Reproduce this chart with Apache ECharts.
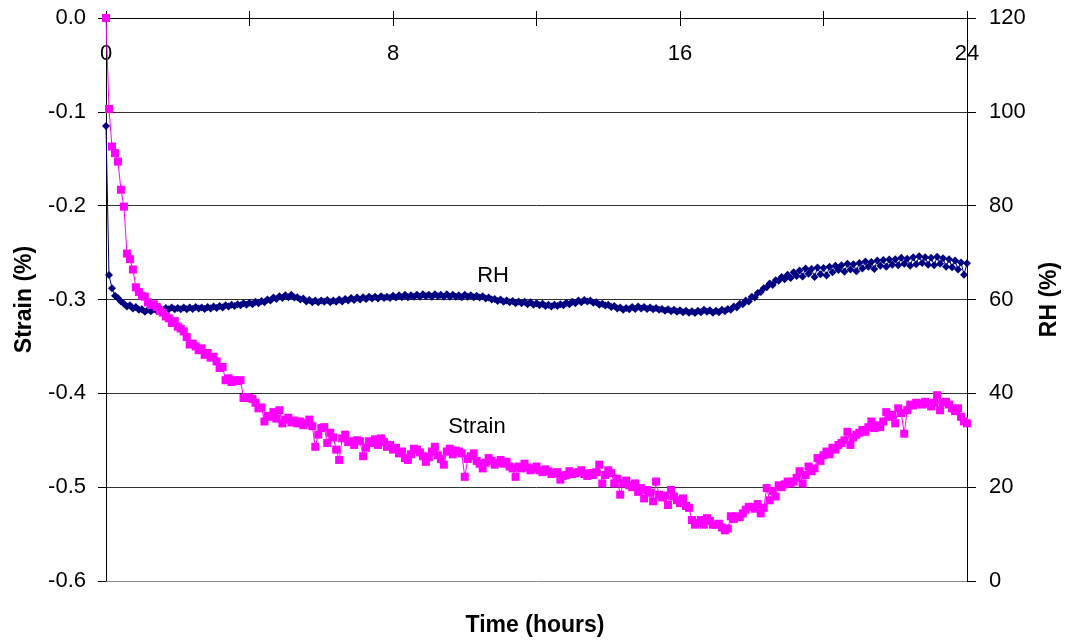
<!DOCTYPE html>
<html>
<head>
<meta charset="utf-8">
<script src="https://cdn.jsdelivr.net/npm/echarts@6/dist/echarts.min.js"></script>
<style>
  html, body { margin: 0; padding: 0; background: #ffffff; }
  #chart { width: 1070px; height: 641px; }
</style>
</head>
<body>
<div id="chart"></div>
<script>
// Logger samples every 5 minutes over 24 hours (one row per hour, last value at 24 h)
const SAMPLE_MINUTES = 5;

const strain = [
  0, -0.097, -0.137, -0.144, -0.153, -0.183, -0.201, -0.251, -0.257, -0.268, -0.287, -0.292,
  -0.296, -0.297, -0.303, -0.306, -0.305, -0.308, -0.312, -0.314, -0.318, -0.320, -0.325, -0.323,
  -0.329, -0.331, -0.334, -0.340, -0.348, -0.347, -0.350, -0.354, -0.352, -0.359, -0.357, -0.362,
  -0.361, -0.366, -0.373, -0.372, -0.386, -0.384, -0.388, -0.386, -0.387, -0.386, -0.405, -0.404,
  -0.405, -0.406, -0.410, -0.416, -0.415, -0.430, -0.424, -0.425, -0.420, -0.427, -0.418, -0.432,
  -0.428, -0.426, -0.431, -0.429, -0.432, -0.430, -0.434, -0.432, -0.428, -0.435, -0.457, -0.444,
  -0.437, -0.436, -0.453, -0.442, -0.447, -0.460, -0.471, -0.448, -0.444, -0.452, -0.451, -0.455,
  -0.450, -0.451, -0.467, -0.458, -0.451, -0.453, -0.449, -0.455, -0.448, -0.452, -0.457, -0.455,
  -0.460, -0.458, -0.464, -0.462, -0.469, -0.471, -0.465, -0.459, -0.460, -0.463, -0.467, -0.473,
  -0.468, -0.462, -0.457, -0.466, -0.470, -0.476, -0.462, -0.459, -0.465, -0.461, -0.462, -0.464,
  -0.489, -0.470, -0.467, -0.464, -0.472, -0.475, -0.480, -0.474, -0.469, -0.472, -0.476, -0.474,
  -0.471, -0.475, -0.473, -0.478, -0.480, -0.489, -0.478, -0.480, -0.475, -0.479, -0.482, -0.480,
  -0.478, -0.482, -0.484, -0.481, -0.483, -0.486, -0.485, -0.484, -0.492, -0.488, -0.487, -0.483,
  -0.486, -0.485, -0.484, -0.482, -0.486, -0.488, -0.485, -0.487, -0.484, -0.476, -0.496, -0.487,
  -0.482, -0.485, -0.496, -0.491, -0.508, -0.496, -0.493, -0.498, -0.500, -0.496, -0.505, -0.501,
  -0.512, -0.503, -0.506, -0.515, -0.494, -0.508, -0.511, -0.509, -0.519, -0.503, -0.510, -0.514,
  -0.517, -0.512, -0.520, -0.522, -0.535, -0.540, -0.538, -0.535, -0.540, -0.533, -0.536, -0.540,
  -0.540, -0.539, -0.543, -0.546, -0.544, -0.531, -0.534, -0.531, -0.532, -0.528, -0.524, -0.521,
  -0.521, -0.523, -0.518, -0.528, -0.522, -0.501, -0.514, -0.504, -0.510, -0.498, -0.500, -0.497,
  -0.494, -0.496, -0.494, -0.490, -0.483, -0.496, -0.487, -0.478, -0.483, -0.480, -0.469, -0.472,
  -0.466, -0.462, -0.465, -0.458, -0.460, -0.455, -0.453, -0.450, -0.441, -0.455, -0.447, -0.444,
  -0.442, -0.439, -0.441, -0.436, -0.430, -0.437, -0.434, -0.436, -0.430, -0.420, -0.425, -0.423,
  -0.432, -0.416, -0.421, -0.443, -0.418, -0.412, -0.413, -0.410, -0.411, -0.412, -0.409, -0.411,
  -0.414, -0.410, -0.402, -0.418, -0.410, -0.409, -0.412, -0.416, -0.419, -0.416, -0.425, -0.430,
  -0.432
];

const rh = [
  97.0, 65.2, 62.4, 60.8, 60.3, 59.6, 59.1, 58.5, 58.8, 58.1, 58.4, 57.8,
  57.9, 57.4, 57.8, 57.5, 57.9, 57.6, 58.1, 57.7, 58.2, 57.9, 58.3, 57.9,
  58.2, 57.9, 58.3, 57.9, 58.3, 58.0, 58.4, 58.1, 58.3, 58.0, 58.4, 58.1,
  58.5, 58.2, 58.6, 58.3, 58.8, 58.5, 58.9, 58.6, 59.0, 58.8, 59.2, 58.9,
  59.3, 59.0, 59.5, 59.2, 59.7, 59.4, 60.0, 59.8, 60.4, 60.1, 60.7, 60.3,
  60.9, 60.5, 61.0, 60.4, 60.5, 60.0, 60.2, 59.6, 59.9, 59.4, 59.8, 59.4,
  59.8, 59.5, 59.9, 59.4, 59.8, 59.5, 60.0, 59.6, 60.1, 59.8, 60.3, 59.9,
  60.4, 60.0, 60.5, 60.1, 60.6, 60.2, 60.6, 60.2, 60.7, 60.3, 60.6, 60.3,
  60.8, 60.4, 60.9, 60.5, 61.0, 60.5, 60.9, 60.6, 61.0, 60.6, 61.1, 60.7,
  61.0, 60.6, 61.1, 60.7, 61.0, 60.6, 61.1, 60.6, 61.0, 60.6, 60.9, 60.5,
  61.0, 60.6, 60.9, 60.5, 60.8, 60.4, 60.7, 60.2, 60.4, 60.0, 60.1, 59.7,
  60.0, 59.5, 59.8, 59.4, 59.7, 59.2, 59.6, 59.2, 59.5, 59.0, 59.4, 58.9,
  59.2, 58.8, 59.1, 58.6, 58.9, 58.5, 58.9, 58.6, 59.0, 58.8, 59.3, 59.0,
  59.5, 59.2, 59.8, 59.4, 59.9, 59.6, 59.8, 59.3, 59.4, 58.9, 59.1, 58.7,
  58.9, 58.4, 58.6, 58.1, 58.3, 57.8, 58.2, 57.9, 58.4, 58.0, 58.5, 58.1,
  58.4, 58.0, 58.3, 57.9, 58.2, 57.8, 58.0, 57.6, 57.9, 57.5, 57.8, 57.4,
  57.7, 57.3, 57.6, 57.2, 57.5, 57.1, 57.6, 57.3, 57.8, 57.4, 57.7, 57.2,
  57.6, 57.3, 57.8, 57.5, 58.0, 57.8, 58.5, 58.3, 59.1, 59.0, 59.8, 59.6,
  60.6, 60.4, 61.4, 61.6, 62.4, 62.6, 63.4, 63.1, 64.1, 64.0, 64.8, 64.3,
  65.3, 64.6, 65.8, 65.0, 66.2, 64.9, 66.6, 65.5, 66.5, 64.8, 66.8, 65.4,
  66.7, 65.1, 67.0, 65.8, 67.2, 66.3, 67.3, 65.9, 67.6, 66.4, 67.5, 66.0,
  67.8, 66.6, 68.1, 67.0, 68.0, 66.5, 68.3, 67.2, 68.4, 67.0, 68.5, 67.4,
  68.6, 67.3, 68.9, 67.6, 68.7, 67.2, 69.0, 67.5, 69.2, 67.8, 69.0, 67.4,
  68.9, 67.3, 69.1, 67.6, 68.8, 67.0, 68.6, 66.9, 68.3, 66.4, 67.9, 65.3,
  67.7
];

const hourTicks = [0, 8, 16, 24];
const strainTicks = [0, -0.1, -0.2, -0.3, -0.4, -0.5, -0.6];
const rhTicks = [0, 20, 40, 60, 80, 100, 120];

const hours = strain.map((_, i) => i * SAMPLE_MINUTES / 60);
const strainPoints = strain.map((v, i) => [hours[i], v]);
const rhPoints = rh.map((v, i) => [hours[i], v]);

const FONT = 'Liberation Sans, Arial, sans-serif';
const TICK_FONT = 22;
const chart = echarts.init(document.getElementById('chart'), null, { renderer: 'canvas' });

chart.setOption({
  backgroundColor: '#ffffff',
  animation: false,
  textStyle: { fontFamily: FONT },
  title: {
    text: 'Time (hours)',
    left: 'center',
    top: 609,
    textStyle: { fontFamily: FONT, fontSize: 23, fontWeight: 'bold', color: '#000' }
  },
  grid: { left: 106, right: 103, top: 18, bottom: 60, containLabel: false, outerBoundsMode: 'none' },
  xAxis: [
    {
      type: 'value', position: 'top', min: 0, max: 24, interval: 4,
      axisLine: { show: true, onZero: false, lineStyle: { color: '#000', width: 1 } },
      axisTick: { show: true, length: 7, lineStyle: { color: '#000' } },
      axisLabel: {
        inside: true, margin: 25, fontSize: TICK_FONT, color: '#000', fontFamily: FONT,
        formatter: v => (hourTicks.includes(v) ? String(v) : '')
      },
      splitLine: { show: false }
    },
    {
      type: 'value', position: 'top', min: 0, max: 24, interval: 4,
      axisLine: { show: false },
      axisTick: { show: true, inside: true, length: 8, lineStyle: { color: '#000' } },
      axisLabel: { show: false },
      splitLine: { show: false }
    }
  ],
  yAxis: [
    {
      type: 'value', position: 'left', min: -0.6, max: 0, interval: 0.1,
      name: 'Strain (%)', nameLocation: 'middle', nameRotate: 90, nameGap: 70,
      nameTextStyle: { fontFamily: FONT, fontSize: 23, fontWeight: 'bold', color: '#000' },
      axisLine: { show: true, onZero: false, lineStyle: { color: '#000', width: 1 } },
      axisTick: { show: true, length: 8, lineStyle: { color: '#000' } },
      axisLabel: {
        margin: 20, fontSize: TICK_FONT, color: '#000', fontFamily: FONT,
        formatter: v => {
          const t = strainTicks.find(s => Math.abs(s - v) < 1e-9);
          return t === undefined ? '' : (t === 0 ? '0.0' : t.toFixed(1));
        }
      },
      splitLine: {
        show: true,
        lineStyle: { color: ['#8a8a8a', '#303030', '#303030', '#303030', '#303030', '#303030', '#303030'], width: 1 }
      }
    },
    {
      type: 'value', position: 'right', min: 0, max: 120, interval: 20,
      name: 'RH (%)', nameLocation: 'middle', nameRotate: 90, nameGap: 71,
      nameTextStyle: { fontFamily: FONT, fontSize: 23, fontWeight: 'bold', color: '#000' },
      axisLine: { show: true, onZero: false, lineStyle: { color: '#000', width: 1 } },
      axisTick: { show: true, length: 9, lineStyle: { color: '#000' } },
      axisLabel: {
        margin: 22, fontSize: TICK_FONT, color: '#000', fontFamily: FONT,
        formatter: v => (rhTicks.includes(v) ? String(v) : '')
      },
      splitLine: { show: false }
    }
  ],
  series: [
    {
      name: 'RH', type: 'line', xAxisIndex: 0, yAxisIndex: 1,
      data: rhPoints,
      symbol: 'diamond', symbolSize: [8, 8],
      lineStyle: { color: '#000080', width: 1 },
      itemStyle: { color: '#000080' },
      markPoint: {
        symbol: 'rect', symbolSize: 1,
        itemStyle: { color: 'rgba(0,0,0,0)' },
        label: { show: true, position: 'inside', formatter: 'RH', fontSize: 22, color: '#000', fontFamily: FONT },
        data: [{ coord: [10.79, 65.0] }]
      }
    },
    {
      name: 'Strain', type: 'line', xAxisIndex: 0, yAxisIndex: 0,
      data: strainPoints,
      symbol: 'rect', symbolSize: [8, 8],
      lineStyle: { color: '#ff00ff', width: 1 },
      itemStyle: { color: '#ff00ff' },
      markPoint: {
        symbol: 'rect', symbolSize: 1,
        itemStyle: { color: 'rgba(0,0,0,0)' },
        label: { show: true, position: 'inside', formatter: 'Strain', fontSize: 22, color: '#000', fontFamily: FONT },
        data: [{ coord: [10.34, -0.436] }]
      }
    }
  ]
});
</script>
</body>
</html>
